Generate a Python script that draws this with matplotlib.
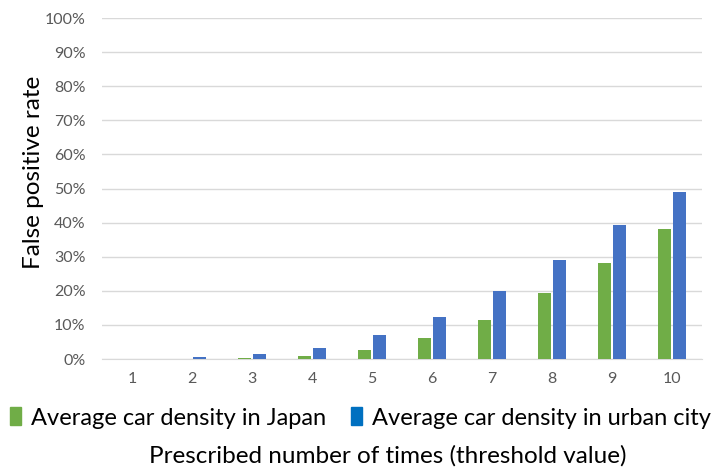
import numpy as np
import matplotlib.pyplot as plt
from matplotlib.patches import Patch

plt.rcParams['font.family'] = ['Lato', 'DejaVu Sans']

thresholds = ['1', '2', '3', '4', '5', '6', '7', '8', '9', '10']
japan = [0.05, 0.0, 0.3, 1.0, 2.7, 6.3, 11.4, 19.4, 28.1, 38.0]
urban = [0.0, 0.5, 1.6, 3.3, 6.9, 12.4, 19.8, 28.9, 39.4, 49.1]

green = '#70AD47'
blue = '#4472C4'

fig = plt.figure(figsize=(7.23, 4.73), dpi=100)
ax = fig.add_axes([102/723, 1 - 359/473, 600/723, 341/473])

x = np.arange(len(thresholds))
w = 0.22
ax.bar(x - w/2 - 0.015, japan, w, color=green, zorder=3)
ax.bar(x + w/2 + 0.015, urban, w, color=blue, zorder=3)

ax.set_xlim(-0.5, len(thresholds) - 0.5)
ax.set_ylim(0, 100)
ax.set_yticks(range(0, 101, 10))
ax.set_yticklabels([f'{v}%' for v in range(0, 101, 10)])
ax.set_xticks(x)
ax.set_xticklabels(thresholds)
ax.grid(axis='y', color='#d9d9d9', linewidth=1, zorder=0)
for s in ['top', 'right', 'left']:
    ax.spines[s].set_visible(False)
ax.spines['bottom'].set_color('#d9d9d9')
ax.tick_params(axis='both', length=0, labelsize=11.5, colors='#595959', pad=9)
ax.tick_params(axis='y', pad=12)

ax.set_ylabel('False positive rate', fontsize=17.5, color='black')
ax.yaxis.set_label_coords(-58/600, (359 - 172)/341)

handles = [Patch(color=green), Patch(color='#0070C0')]
fig.legend(handles, ['Average car density in Japan', 'Average car density in urban city'],
           loc='center left', bbox_to_anchor=(10/723, 1 - 418/473), ncol=2, frameon=False,
           fontsize=17, handlelength=0.45, handleheight=0.8, handletextpad=0.45,
           columnspacing=1.05, borderaxespad=0, borderpad=0)
fig.text(388/723, 1 - 456/473, 'Prescribed number of times (threshold value)',
         ha='center', va='center', fontsize=17.5)

fig.savefig('out.png', dpi=100)
